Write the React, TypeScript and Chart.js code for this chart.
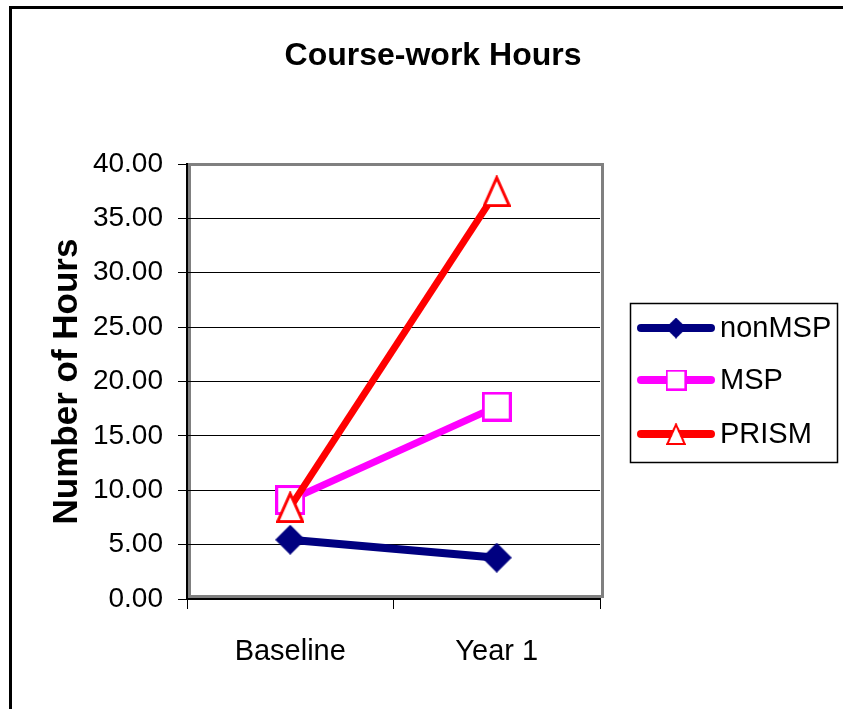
import React, { useEffect, useRef } from "react";
import { Chart, registerables } from "chart.js";

Chart.register(...registerables);

const chartTitle = "Course-work Hours";
const yAxisTitle = "Number of Hours";
const categories = ["Baseline", "Year 1"];
const seriesNames = ["nonMSP", "MSP", "PRISM"];
const nonMSP = [5.45, 3.8];
const MSP = [9.1, 17.7];
const PRISM = [8.45, 37.5];
const yMin = 0;
const yMax = 40;
const yStep = 5;

const FONT = "'Liberation Sans', Arial, sans-serif";

function makeMarker(kind: string): HTMLCanvasElement {
  const c = document.createElement("canvas");
  if (kind === "diamond") {
    c.width = 30;
    c.height = 30;
    const g = c.getContext("2d")!;
    g.fillStyle = "#000080";
    g.beginPath();
    g.moveTo(15, 0);
    g.lineTo(30, 15);
    g.lineTo(15, 30);
    g.lineTo(0, 15);
    g.closePath();
    g.fill();
  } else if (kind === "square") {
    c.width = 30;
    c.height = 30;
    const g = c.getContext("2d")!;
    g.fillStyle = "#FFFFFF";
    g.fillRect(1.5, 1.5, 27, 27);
    g.strokeStyle = "#FF00FF";
    g.lineWidth = 3;
    g.strokeRect(1.5, 1.5, 27, 27);
  } else {
    c.width = 28;
    c.height = 32;
    const g = c.getContext("2d")!;
    g.fillStyle = "#FFFFFF";
    g.strokeStyle = "#FF0000";
    g.lineWidth = 3;
    g.lineJoin = "miter";
    g.beginPath();
    g.moveTo(14, 2.5);
    g.lineTo(26.5, 30.5);
    g.lineTo(1.5, 30.5);
    g.closePath();
    g.fill();
    g.stroke();
  }
  return c;
}

const overlayPlugin = {
  id: "overlay",
  beforeDraw(chart: any) {
    const { ctx, chartArea: ca } = chart;
    ctx.save();
    ctx.strokeStyle = "#808080";
    ctx.lineWidth = 3;
    ctx.strokeRect(ca.left + 2.5, ca.top + 0.5, ca.right - ca.left, ca.bottom - ca.top - 3);
    ctx.restore();
  },
  afterDraw(chart: any) {
    const { ctx } = chart;
    ctx.save();
    // title
    ctx.fillStyle = "#000";
    ctx.font = `bold 32px ${FONT}`;
    ctx.textAlign = "center";
    ctx.textBaseline = "middle";
    ctx.fillText(chartTitle, 433, 56);

    // legend
    ctx.strokeStyle = "#000";
    ctx.lineWidth = 1.5;
    ctx.strokeRect(630.5, 303.5, 207, 159);
    const rows = [328, 380, 434];
    chart.data.datasets.forEach((ds: any, i: number) => {
      const y = rows[i];
      ctx.save();
      ctx.strokeStyle = ds.borderColor;
      ctx.lineWidth = 8;
      ctx.lineCap = "round";
      ctx.beginPath();
      ctx.moveTo(641, y);
      ctx.lineTo(711, y);
      ctx.stroke();
      const img = ds.pointStyle as HTMLCanvasElement;
      const s = 0.7;
      const w = img.width * s;
      const h = img.height * s;
      ctx.drawImage(img, 676 - w / 2, y - h / 2, w, h);
      ctx.restore();
      ctx.fillStyle = "#000";
      ctx.font = `29px ${FONT}`;
      ctx.textAlign = "left";
      ctx.textBaseline = "middle";
      ctx.fillText(ds.label, 720, y + 1);
    });
    ctx.restore();
  },
};

export default function App() {
  const ref = useRef<HTMLCanvasElement | null>(null);

  useEffect(() => {
    if (!ref.current) return;
    const diamond = makeMarker("diamond");
    const square = makeMarker("square");
    const triangle = makeMarker("triangle");
    const chart = new Chart(ref.current, {
      type: "line",
      data: {
        labels: categories,
        datasets: [
          {
            label: seriesNames[0],
            data: nonMSP,
            borderColor: "#000080",
            backgroundColor: "#000080",
            pointStyle: diamond,
            pointRadius: 15,
            borderWidth: 8,
            order: 2,
          },
          {
            label: seriesNames[1],
            data: MSP,
            borderColor: "#FF00FF",
            backgroundColor: "#FFFFFF",
            pointStyle: square,
            pointRadius: 15,
            borderWidth: 7,
            order: 1,
          },
          {
            label: seriesNames[2],
            data: PRISM,
            borderColor: "#FF0000",
            backgroundColor: "#FFFFFF",
            pointStyle: triangle,
            pointRadius: 15,
            borderWidth: 7,
            order: 0,
          },
        ],
      },
      options: {
        responsive: false,
        animation: false,
        devicePixelRatio: 1,
        layout: { padding: { top: 164, right: 243, bottom: 0, left: 0 } },
        plugins: {
          legend: { display: false },
          title: { display: false },
          tooltip: { enabled: false },
        },
        scales: {
          x: {
            type: "category",
            offset: true,
            grid: {
              display: true,
              offset: true,
              drawOnChartArea: false,
              drawTicks: true,
              tickLength: 10,
              color: "#000",
              lineWidth: 1,
            },
            border: { display: true, color: "#000", width: 2 },
            ticks: {
              color: "#000",
              font: { family: FONT, size: 29 },
              padding: 26,
              maxRotation: 0,
            },
            afterFit: (s: any) => {
              s.height = 110;
            },
          },
          y: {
            min: yMin,
            max: yMax,
            grid: {
              color: (c: any) => (c.tick && c.tick.value === yMax ? "rgba(0,0,0,0)" : "#000"),
              tickColor: "#000",
              lineWidth: 1,
              drawTicks: true,
              tickLength: 9,
            },
            border: { display: true, color: "#000", width: 2 },
            ticks: {
              stepSize: yStep,
              color: "#000",
              font: { family: FONT, size: 28 },
              padding: 15,
              callback: (v: any) => Number(v).toFixed(2),
            },
            title: {
              display: true,
              text: yAxisTitle,
              color: "#000",
              font: { family: FONT, size: 35, weight: "bold" },
              padding: { top: 46, bottom: 0 },
            },
            afterFit: (s: any) => {
              s.width = 187;
            },
          },
        },
      },
      plugins: [overlayPlugin],
    } as any);
    return () => chart.destroy();
  }, []);

  return (
    <div
      style={{
        position: "absolute",
        left: 0,
        top: 0,
        width: 843,
        height: 709,
        overflow: "hidden",
        background: "#fff",
      }}
    >
      <canvas ref={ref} width={843} height={709} style={{ position: "absolute", left: 0, top: 0 }} />
      <div
        style={{
          position: "absolute",
          left: 9,
          top: 6,
          width: 1000,
          height: 1000,
          border: "3px solid #000",
          pointerEvents: "none",
        }}
      />
    </div>
  );
}
